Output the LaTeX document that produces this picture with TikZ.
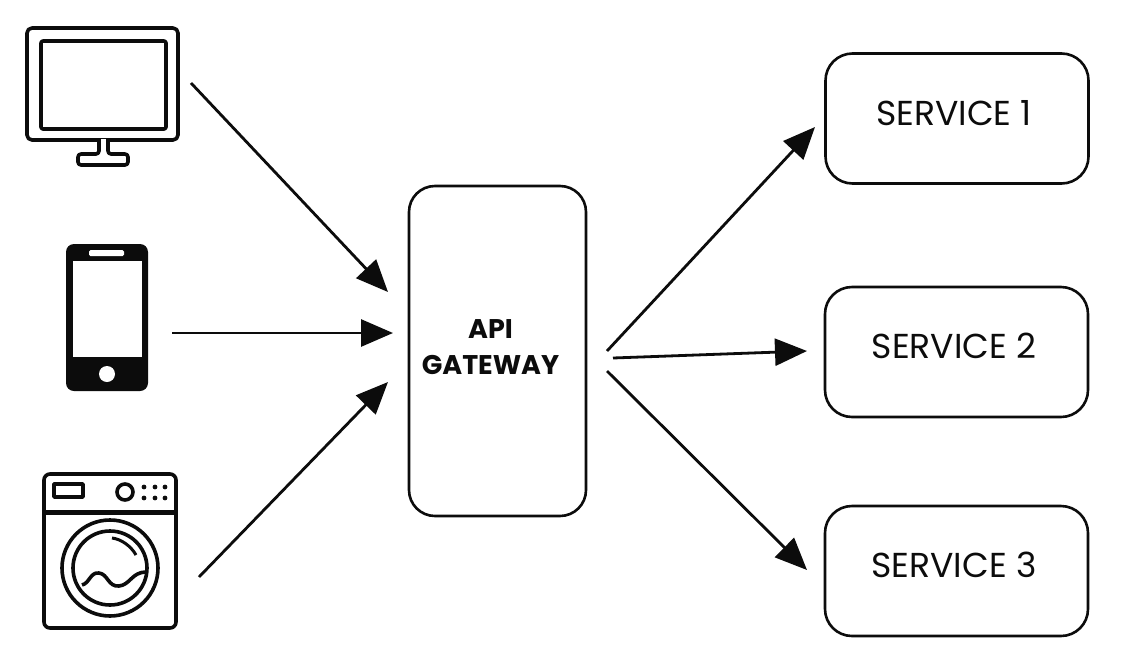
\documentclass[tikz,border=0pt]{standalone}
\usepackage{fontspec}
\setmainfont{Poppins}
\usetikzlibrary{arrows.meta}
\definecolor{ink}{HTML}{0C0C0C}
\tikzset{
  x=1pt,y=-1pt,
  svc/.style={draw=ink,line width=2.6pt,rounded corners=27pt,minimum width=263pt,minimum height=130pt,inner sep=0pt,font=\fontsize{34.6}{38}\selectfont,text=ink},
  gate/.style={draw=ink,line width=2.6pt,rounded corners=26pt,minimum width=177pt,minimum height=330pt,inner sep=0pt,align=center,font=\fontsize{27}{35}\selectfont\bfseries,text=ink},
  conn/.style={draw=ink,line width=2.8pt,-{Triangle[length=32pt,width=27pt]},shorten >=0pt},
  icon/.style={draw=ink,line width=3.6pt,line join=round},
}
\begin{document}
\begin{tikzpicture}
\useasboundingbox (0,0) rectangle (1132,667);
\fill[white] (0,0) rectangle (1132,667);
% monitor
\draw[icon,rounded corners=5pt] (27,28) rectangle (178,140);
\draw[icon,rounded corners=2pt] (41,41) rectangle (166,129);
\draw[icon,rounded corners=3pt,fill=white] (99,139) -- (99,154) -- (78,154) -- (78,165) -- (128,165) -- (128,154) -- (108,154) -- (108,139);
% phone
\fill[ink,rounded corners=8pt] (66,244) rectangle (148,391);
\fill[white] (73,261) rectangle (142,357);
\fill[white,rounded corners=1.5pt] (89,250) rectangle (124,256);
\fill[white] (107,374) circle (8);
% washer
\draw[icon,rounded corners=6pt] (44,474) rectangle (176,628);
\draw[ink,line width=5pt] (44,512) -- (176,512);
\draw[icon] (54,484) rectangle (83,497);
\draw[icon] (125,492) circle (8);
\foreach \px in {144,155,165}{\foreach \py in {487,498}{\fill[ink] (\px,\py) circle (2.4);}}
\draw[icon] (110,568) circle (48);
\draw[icon] (110,568) circle (37);
\draw[icon,line width=3pt] (112,538) .. controls (121,539) and (131,546) .. (136,555);
\draw[icon] (82,585) .. controls (90,583) and (90,572) .. (99,573) .. controls (108,574) and (108,587) .. (119,586) .. controls (130,585) and (132,572) .. (146,572);
% boxes
\node[gate] (api) at (497.5,351) {\raisebox{8pt}{\makebox[0pt]{\hspace{-14pt}API}}\\\raisebox{7pt}{\makebox[0pt]{\hspace{-14pt}GATEWAY}}};
\node[svc] (s1) at (957,118.5) {\raisebox{12pt}{\hspace{-6pt}SERVICE 1}};
\node[svc] (s2) at (956.5,352) {\raisebox{13pt}{\hspace{-5pt}SERVICE 2}};
\node[svc] (s3) at (956.5,571) {\raisebox{13pt}{\hspace{-5pt}SERVICE 3}};
% connector ends
\coordinate (mOut) at (191,83);
\coordinate (pOut) at (172,333);
\coordinate (wOut) at (199,577);
\coordinate (aIn1) at (388,292);
\coordinate (aIn2) at (393,333);
\coordinate (aIn3) at (388,382);
\coordinate (aOut1) at (607,351);
\coordinate (aOut2) at (613,358);
\coordinate (aOut3) at (607,371);
\coordinate (s1In) at (815,127);
\coordinate (s2In) at (807,351);
\coordinate (s3In) at (807,570);
\draw[conn] (mOut) -- (aIn1);
\draw[conn] (pOut) -- (aIn2);
\draw[conn] (wOut) -- (aIn3);
\draw[conn] (aOut1) -- (s1In);
\draw[conn] (aOut2) -- (s2In);
\draw[conn] (aOut3) -- (s3In);
\end{tikzpicture}
\end{document}
